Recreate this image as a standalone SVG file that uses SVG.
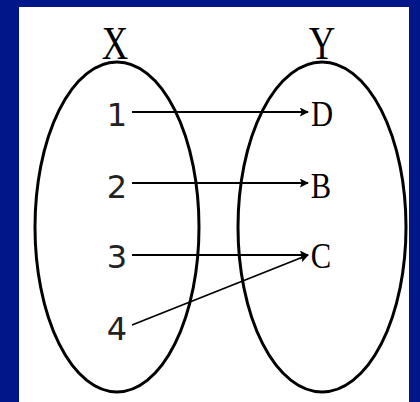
<svg xmlns="http://www.w3.org/2000/svg" width="420" height="402" viewBox="0 0 420 402">
<defs>
<marker id="ah" viewBox="0 0 10 10" refX="9" refY="5" markerWidth="5" markerHeight="5" orient="auto" markerUnits="strokeWidth">
<path d="M0,0 L10,5 L0,10 L2,5 z" fill="#000"/>
</marker>
<style>
.set{fill:none;stroke:#000;stroke-width:3}
.lbl{font-family:"Liberation Serif","DejaVu Serif",serif;fill:#000;text-anchor:middle}
.num{font-family:"DejaVu Sans","Liberation Sans",sans-serif;font-size:32px;fill:#222;text-anchor:middle}
.edge{stroke:#000;stroke-width:1.8;fill:none;marker-end:url(#ah)}
</style>
</defs>
<rect x="0" y="0" width="420" height="402" fill="#001689"/>
<rect x="19" y="7" width="390" height="395" fill="#fff"/>
<g id="setX">
<ellipse class="set" cx="117" cy="227" rx="82" ry="165"/>
<text class="lbl" transform="translate(115,59) scale(0.78,1)" font-size="47">X</text>
</g>
<g id="setY">
<ellipse class="set" cx="322" cy="227" rx="84" ry="165"/>
<text class="lbl" transform="translate(322,59) scale(0.78,1)" font-size="47">Y</text>
</g>
<g id="n1"><text class="num" x="117" y="126">1</text></g>
<g id="n2"><text class="num" x="117" y="198">2</text></g>
<g id="n3"><text class="num" x="117" y="268">3</text></g>
<g id="n4"><text class="num" x="117" y="340">4</text></g>
<g id="nD"><text class="lbl" transform="translate(322,126) scale(0.85,1)" font-size="36">D</text></g>
<g id="nB"><text class="lbl" transform="translate(321,198) scale(0.85,1)" font-size="36">B</text></g>
<g id="nC"><text class="lbl" transform="translate(321,268) scale(0.85,1)" font-size="36">C</text></g>
<g id="connectors">
<line class="edge" x1="132" y1="112" x2="308" y2="112"/>
<line class="edge" x1="132" y1="183" x2="308" y2="183"/>
<line class="edge" x1="132" y1="255" x2="308" y2="255"/>
<line class="edge" x1="132" y1="325" x2="308" y2="255"/>
</g>
</svg>
